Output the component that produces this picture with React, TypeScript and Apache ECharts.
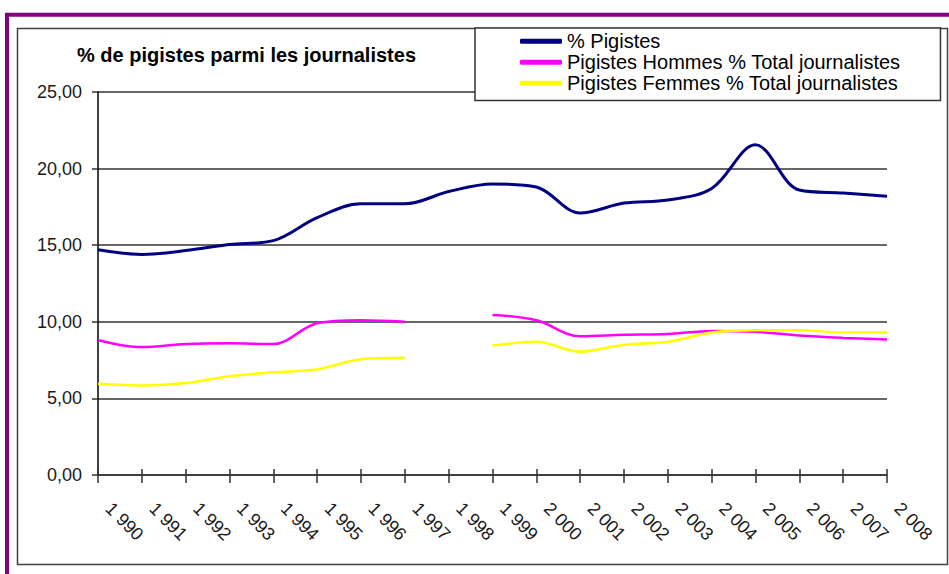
import React, { useEffect, useRef } from "react";
import * as echarts from "echarts";

const years = [
  "1 990", "1 991", "1 992", "1 993", "1 994", "1 995", "1 996", "1 997", "1 998", "1 999",
  "2 000", "2 001", "2 002", "2 003", "2 004", "2 005", "2 006", "2 007", "2 008",
];
const pigistes = [14.7, 14.4, 14.65, 15.05, 15.3, 16.8, 17.7, 17.7, 18.5, 19.0, 18.8, 17.1, 17.75, 17.95, 18.7, 21.55, 18.6, 18.4, 18.2];
const hommes = [8.8, 8.35, 8.55, 8.6, 8.55, 9.9, 10.1, 10.0, null, 10.45, 10.1, 9.05, 9.15, 9.2, 9.4, 9.35, 9.1, 8.95, 8.85];
const femmes = [5.95, 5.85, 6.0, 6.45, 6.7, 6.9, 7.55, 7.65, null, 8.45, 8.7, 8.05, 8.5, 8.7, 9.3, 9.45, 9.45, 9.3, 9.3];
const seriesNames = ["% Pigistes", "Pigistes Hommes % Total journalistes", "Pigistes Femmes % Total journalistes"];
const titleText = "% de pigistes parmi les journalistes";

export default function App() {
  const ref = useRef<HTMLDivElement>(null);
  useEffect(() => {
    if (!ref.current) return;
    const chart = echarts.init(ref.current, null, { renderer: "svg" });
    const font = "'Liberation Sans', Arial, sans-serif";
    chart.setOption({
      animation: false,
      backgroundColor: "#fff",
      textStyle: { fontFamily: font },
      title: {
        text: titleText,
        left: 77,
        top: 45,
        padding: 0,
        textStyle: { fontSize: 20, fontWeight: "bold", color: "#000", fontFamily: font },
      },
      legend: {
        orient: "vertical",
        left: 475,
        top: 28,
        padding: [3, 40, 7, 45],
        backgroundColor: "#fff",
        borderColor: "#333",
        borderWidth: 1.5,
        itemWidth: 42,
        itemHeight: 5,
        itemGap: 0.5,
        icon: "roundRect",
        data: seriesNames,
        textStyle: { fontSize: 20, lineHeight: 20.5, color: "#000", fontFamily: font },
      },
      graphic: [
        {
          type: "rect",
          shape: { x: 7, y: 14.7, width: 2000, height: 2000 },
          style: { fill: "none", stroke: "#800080", lineWidth: 4 },
          silent: true,
        },
        {
          type: "rect",
          shape: { x: 17.5, y: 28.5, width: 930, height: 536 },
          style: { fill: "none", stroke: "#404040", lineWidth: 1.5 },
          silent: true,
        },
      ],
      grid: { left: 98, right: 62, top: 92, bottom: 99 },
      xAxis: [
        {
          type: "category",
          data: years,
          boundaryGap: false,
          axisLine: { lineStyle: { color: "#333", width: 1.5 } },
          axisTick: { show: true, length: 8, lineStyle: { color: "#333", width: 1.5 } },
          axisLabel: {
            interval: 0,
            rotate: -45,
            fontSize: 18,
            margin: 20,
            padding: [0, 0, 0, 15],
            color: "#1a1a1a",
            fontFamily: font,
          },
          splitLine: { show: false },
        },
        {
          type: "category",
          data: years,
          boundaryGap: false,
          position: "bottom",
          axisLine: { show: false },
          axisTick: { show: true, inside: true, length: 6, lineStyle: { color: "#333", width: 1.5 } },
          axisLabel: { show: false },
          splitLine: { show: false },
        },
      ],
      yAxis: {
        type: "value",
        min: 0,
        max: 25,
        interval: 5,
        axisLine: { show: true, lineStyle: { color: "#000", width: 1.5 } },
        axisTick: { show: true, length: 6, lineStyle: { color: "#333", width: 1.5 } },
        axisLabel: {
          fontSize: 18,
          margin: 16,
          color: "#1a1a1a",
          fontFamily: font,
          formatter: (v: number) => v.toFixed(2).replace(".", ","),
        },
        splitLine: { show: true, lineStyle: { color: "#333", width: 1.5 } },
      },
      series: [
        {
          name: seriesNames[0],
          type: "line",
          data: pigistes,
          smooth: 0.35,
          symbol: "none",
          lineStyle: { color: "#000080", width: 3 },
          itemStyle: { color: "#000080" },
        },
        {
          name: seriesNames[1],
          type: "line",
          data: hommes,
          smooth: 0.35,
          symbol: "none",
          connectNulls: false,
          lineStyle: { color: "#FF00FF", width: 2.5 },
          itemStyle: { color: "#FF00FF" },
        },
        {
          name: seriesNames[2],
          type: "line",
          data: femmes,
          smooth: 0.35,
          symbol: "none",
          connectNulls: false,
          lineStyle: { color: "#FFFF00", width: 2.5 },
          itemStyle: { color: "#FFFF00" },
        },
      ],
    });
    return () => chart.dispose();
  }, []);
  return (
    <div
      ref={ref}
      style={{ position: "absolute", left: 0, top: 0, width: 949, height: 574 }}
    />
  );
}
